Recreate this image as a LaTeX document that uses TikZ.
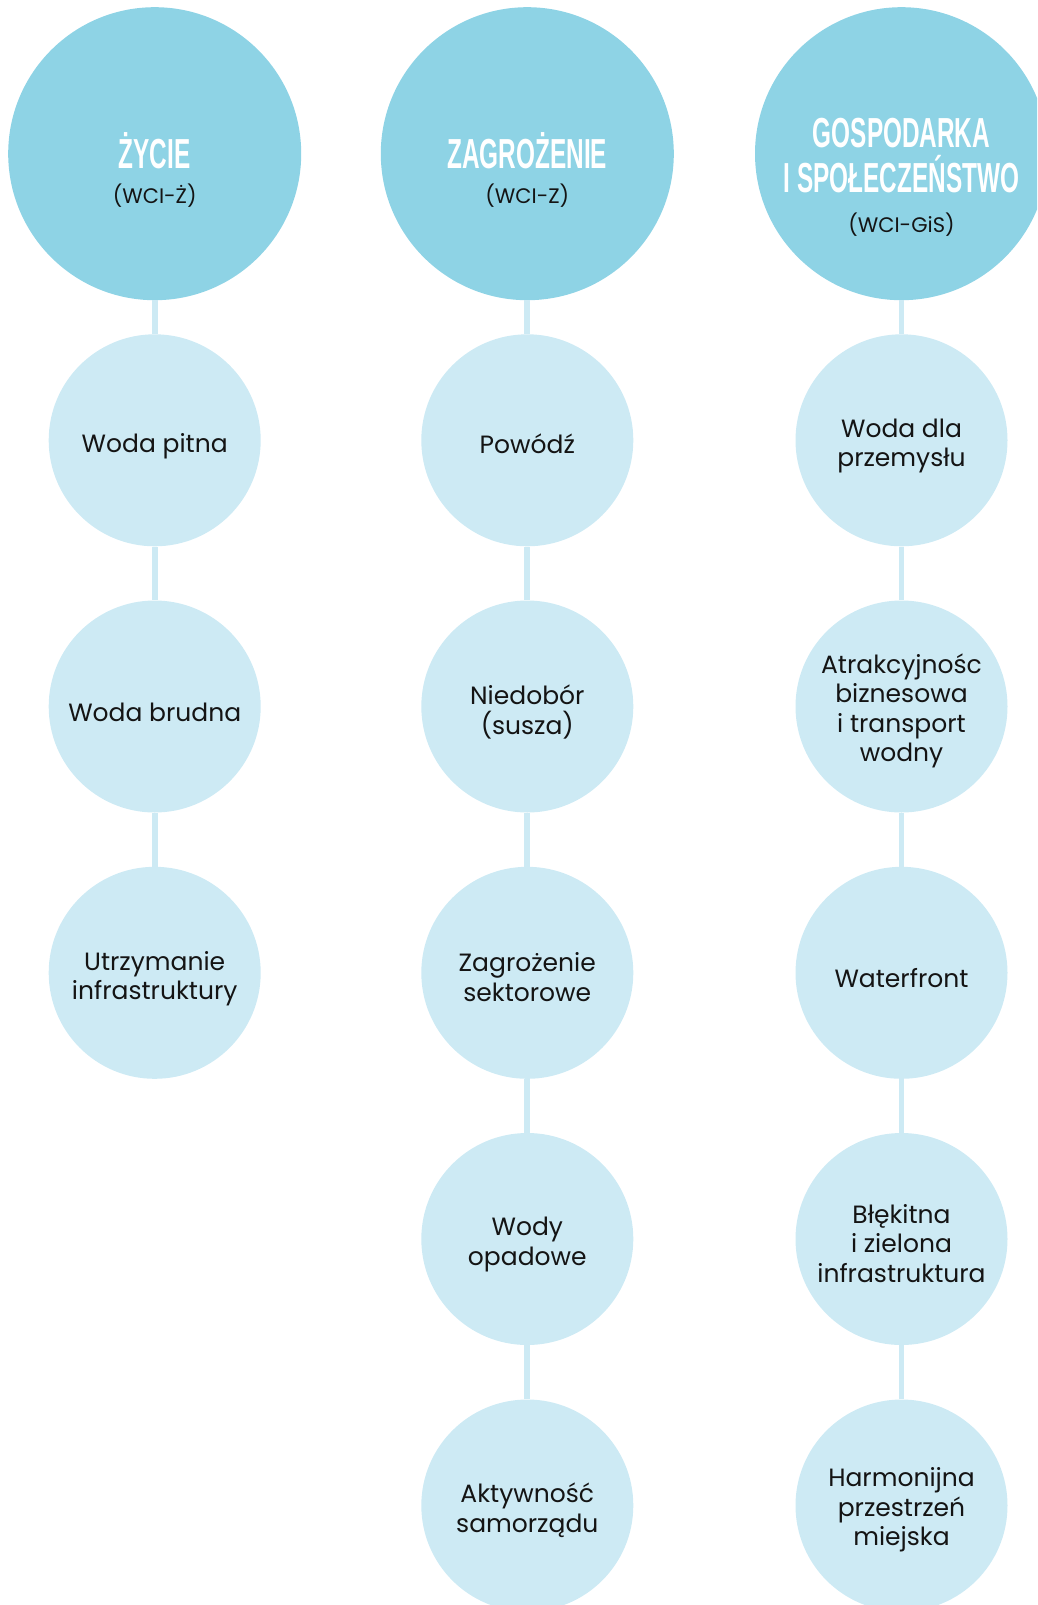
\documentclass[tikz,border=0pt]{standalone}
\usepackage{fontspec}
\setmainfont{Poppins}
\newfontfamily\headfont[FakeStretch=0.58]{Liberation Sans}
\definecolor{hubblue}{RGB}{142,211,229}
\definecolor{itemblue}{RGB}{205,234,244}
\definecolor{linkblue}{RGB}{205,234,244}
\definecolor{ink}{RGB}{20,20,20}
\begin{document}
\begin{tikzpicture}[x=1pt,y=-1pt,
  hub/.style={circle,fill=hubblue,minimum size=293pt,inner sep=0pt},
  item/.style={circle,fill=itemblue,minimum size=212pt,inner sep=0pt},
  itemtext/.style={inner sep=0pt,align=center,text=ink,font=\fontsize{25}{29.5}\selectfont},
  link/.style={draw=linkblue,line width=5.7pt},
  headline/.style={anchor=base,inner sep=0pt,text=white,align=center,
    font=\headfont\bfseries\fontsize{42}{45}\selectfont},
  tag/.style={anchor=base,inner sep=0pt,text=ink,font=\fontsize{21}{24}\selectfont}]
\useasboundingbox (0,0) rectangle (1037,1605);
\clip (0,0) rectangle (1037,1605);

% three top-level categories
\node[hub] (h1) at (154.7,153.7) {};
\node[hub] (h2) at (527.3,153.7) {};
\node[hub] (h3) at (901.5,153.7) {};

\node[headline] (t1) at (154.7,169) {ŻYCIE};
\node[tag] (s1) at (154.7,204) {(WCI-Ż)};
\node[headline] (t2) at (527.3,169) {ZAGROŻENIE};
\node[tag] (s2) at (527.3,204) {(WCI-Z)};
\node[headline] (t3a) at (901.5,148) {GOSPODARKA};
\node[headline] (t3b) at (901.5,193) {I SPOŁECZEŃSTWO};
\node[tag] (s3) at (901.5,233) {(WCI-GiS)};

% circles of the three columns
\node[item] (a1) at (154.7,440.3) {};
\node[item] (a2) at (154.7,706.5) {};
\node[item] (a3) at (154.7,972.8) {};
\node[item] (b1) at (527.3,440.3) {};
\node[item] (b2) at (527.3,706.5) {};
\node[item] (b3) at (527.3,972.8) {};
\node[item] (b4) at (527.3,1239) {};
\node[item] (b5) at (527.3,1505.5) {};
\node[item] (c1) at (901.5,440.3) {};
\node[item] (c2) at (901.5,706.5) {};
\node[item] (c3) at (901.5,972.8) {};
\node[item] (c4) at (901.5,1239) {};
\node[item] (c5) at (901.5,1505.5) {};

% column 1
\node[itemtext] (a1t) at (154.7,446) {Woda pitna};
\node[itemtext] (a2t) at (154.7,712.2) {Woda brudna};
\node[itemtext] (a3t) at (154.7,978.5) {Utrzymanie\\infrastruktury};

% column 2
\node[itemtext] (b1t) at (527.3,444) {Powódź};
\node[itemtext] (b2t) at (527.3,712.2) {Niedobór\\(susza)};
\node[itemtext] (b3t) at (527.3,977) {Zagrożenie\\sektorowe};
\node[itemtext] (b4t) at (527.3,1244.7) {Wody\\opadowe};
\node[itemtext] (b5t) at (527.3,1510) {Aktywność\\samorządu};

% column 3
\node[itemtext] (c1t) at (901.5,446) {Woda dla\\przemysłu};
\node[itemtext] (c2t) at (901.5,711) {Atrakcyjnośc\\biznesowa\\i transport\\wodny};
\node[itemtext] (c3t) at (901.5,978.5) {Waterfront};
\node[itemtext] (c4t) at (901.5,1243.5) {Błękitna\\i zielona\\infrastruktura};
\node[itemtext] (c5t) at (901.5,1510) {Harmonijna\\przestrzeń\\miejska};

% vertical links
\draw[link] (h1) -- (a1);
\draw[link] (a1) -- (a2);
\draw[link] (a2) -- (a3);
\draw[link] (h2) -- (b1);
\draw[link] (b1) -- (b2);
\draw[link] (b2) -- (b3);
\draw[link] (b3) -- (b4);
\draw[link] (b4) -- (b5);
\draw[link] (h3) -- (c1);
\draw[link] (c1) -- (c2);
\draw[link] (c2) -- (c3);
\draw[link] (c3) -- (c4);
\draw[link] (c4) -- (c5);
\end{tikzpicture}
\end{document}
